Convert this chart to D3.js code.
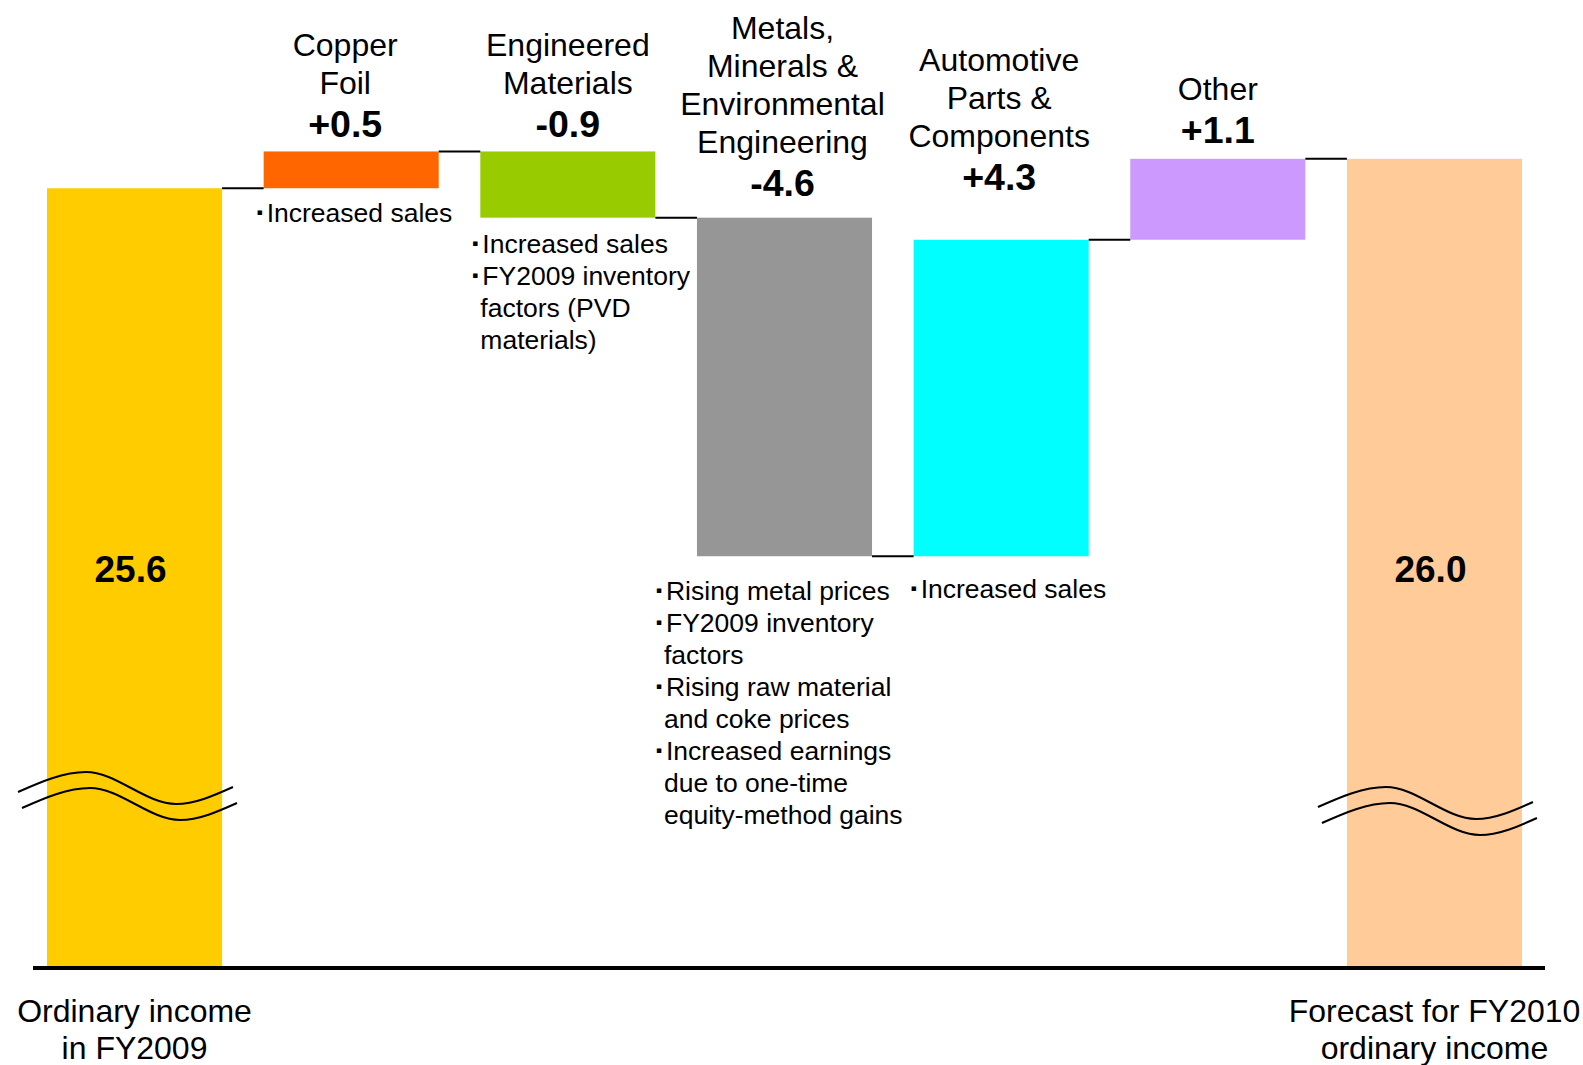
<!DOCTYPE html>
<html>
<head>
<meta charset="utf-8">
<script src="https://cdn.jsdelivr.net/npm/d3@7"></script>
<style>
  html, body { margin: 0; padding: 0; background: #ffffff; }
  svg { display: block; }
  text { font-family: Arial, "Liberation Sans", Helvetica, sans-serif; fill: #000; }
</style>
</head>
<body>
<svg id="chart" width="1583" height="1065"></svg>
<script>
// Ordinary income bridge, FY2009 -> FY2010 forecast (billions of yen)
const categories = ["start", "copper", "engineered", "metals", "automotive", "other", "end"];
const kinds = ["total", "delta", "delta", "delta", "delta", "delta", "total"];
const values = [25.6, 0.5, -0.9, -4.6, 4.3, 1.1, 26.0];
const colors = ["#FFCC00", "#FF6600", "#99CC00", "#969696", "#00FFFF", "#CC99FF", "#FFCC99"];

const headerLines = [
  [],
  ["Copper", "Foil"],
  ["Engineered", "Materials"],
  ["Metals,", "Minerals &", "Environmental", "Engineering"],
  ["Automotive", "Parts &", "Components"],
  ["Other"],
  []
];
const footerLines = [
  ["Ordinary income", "in FY2009"],
  [], [], [], [], [],
  ["Forecast for FY2010", "ordinary income"]
];
// each note is a bullet item made of one or more wrapped lines
const notes = [
  [],
  [["Increased sales"]],
  [["Increased sales"], ["FY2009 inventory", "factors (PVD", "materials)"]],
  [["Rising metal prices"], ["FY2009 inventory", "factors"], ["Rising raw material", "and coke prices"],
   ["Increased earnings", "due to one-time", "equity-method gains"]],
  [["Increased sales"]],
  [],
  []
];

// label placement tweaks (pixels)
const headerGap = [0, 14, 14, 22, 50, 16, 0];
const headerShift = [0, -6, 0, -2, -2, 0, 0];
const noteDrop = [0, 34, 35, 44, 42, 0, 0];
const noteShift = [0, -7, -8, -41, -3, 0, 0];

const svg = d3.select("#chart");
const baseY = 966;

const x = d3.scaleBand()
  .domain(categories)
  .range([47, 1522])
  .paddingInner(0.192)
  .paddingOuter(0);

// broken value axis: only the top slice of the range is shown to scale
const y = d3.scaleLinear().domain([20, 26.5]).range([600.4, 122]);

// running totals
const rows = [];
let running = 0;
values.forEach((v, i) => {
  if (kinds[i] === "total") {
    running = v;
    rows.push({ i, key: categories[i], v, top: y(v), bottom: baseY, level: v });
  } else {
    const before = running, after = running + v;
    running = after;
    rows.push({ i, key: categories[i], v, top: y(Math.max(before, after)), bottom: y(Math.min(before, after)), level: after });
  }
});

// bars
svg.append("g").selectAll("rect")
  .data(rows)
  .join("rect")
  .attr("x", d => x(d.key))
  .attr("width", x.bandwidth())
  .attr("y", d => d.top)
  .attr("height", d => d.bottom - d.top)
  .attr("fill", d => colors[d.i]);

// connectors between consecutive bars
const links = rows.slice(0, -1).map((d, k) => ({ x1: x(d.key) + x.bandwidth(), x2: x(rows[k + 1].key), yv: y(d.level) }));
svg.append("g").selectAll("line")
  .data(links)
  .join("line")
  .attr("x1", d => d.x1).attr("x2", d => d.x2)
  .attr("y1", d => d.yv).attr("y2", d => d.yv)
  .attr("stroke", "#000").attr("stroke-width", 2);

// break marks across the total bars
const wave = d3.line().curve(d3.curveMonotoneX);
const wavePts = [[0, 0], [68, -20], [158, 12], [215, -5]];
const breakY = [792, 0, 0, 0, 0, 0, 807];
rows.filter(d => kinds[d.i] === "total").forEach(d => {
  const x0 = x(d.key) - 29;
  const y0 = breakY[d.i];
  [[0, 0], [4, 16]].forEach(([dx, dy]) => {
    svg.append("path")
      .attr("d", wave(wavePts.map(p => [x0 + dx + p[0], y0 + dy + p[1]])))
      .attr("fill", "none")
      .attr("stroke", "#000")
      .attr("stroke-width", 2);
  });
});

// base line
svg.append("line")
  .attr("x1", 33).attr("x2", 1545)
  .attr("y1", 968).attr("y2", 968)
  .attr("stroke", "#000").attr("stroke-width", 4);

const fmt = d3.format(".1f");
const fmtSigned = d3.format("+.1f");

// values inside total bars
svg.append("g").selectAll("text")
  .data(rows.filter(d => kinds[d.i] === "total"))
  .join("text")
  .attr("x", d => x(d.key) + x.bandwidth() / 2 - 4)
  .attr("y", 582)
  .attr("text-anchor", "middle")
  .style("font-size", "37px")
  .style("font-weight", "bold")
  .text(d => fmt(d.v));

// headers and signed values above delta bars
rows.filter(d => kinds[d.i] === "delta").forEach(d => {
  const cx = x(d.key) + x.bandwidth() / 2 + headerShift[d.i];
  const vy = d.top - headerGap[d.i];
  svg.append("text")
    .attr("x", cx).attr("y", vy)
    .attr("text-anchor", "middle")
    .style("font-size", "37.5px")
    .style("font-weight", "bold")
    .text(fmtSigned(d.v).replace("−", "-"));
  const lines = headerLines[d.i];
  lines.forEach((t, k) => {
    svg.append("text")
      .attr("x", cx)
      .attr("y", vy - 43 - (lines.length - 1 - k) * 38)
      .attr("text-anchor", "middle")
      .style("font-size", "32px")
      .text(t);
  });
});

// bullet notes beneath delta bars
rows.forEach(d => {
  const items = notes[d.i];
  if (!items.length) return;
  const x0 = x(d.key) + noteShift[d.i];
  let ly = d.bottom + noteDrop[d.i];
  items.forEach(item => {
    item.forEach((t, k) => {
      if (k === 0) {
        svg.append("text")
          .attr("x", x0).attr("y", ly - 7)
          .style("font-family", "'DejaVu Sans', sans-serif")
          .style("font-size", "9px")
          .text("▪");
      }
      svg.append("text")
        .attr("x", k === 0 ? x0 + 10 : x0 + 8)
        .attr("y", ly)
        .style("font-size", "26.5px")
        .text(t);
      ly += 32;
    });
  });
});

// category labels under the total bars
rows.filter(d => kinds[d.i] === "total").forEach(d => {
  const cx = x(d.key) + x.bandwidth() / 2;
  footerLines[d.i].forEach((t, k) => {
    svg.append("text")
      .attr("x", cx).attr("y", 1022 + k * 37)
      .attr("text-anchor", "middle")
      .style("font-size", "32px")
      .text(t);
  });
});
</script>
</body>
</html>
